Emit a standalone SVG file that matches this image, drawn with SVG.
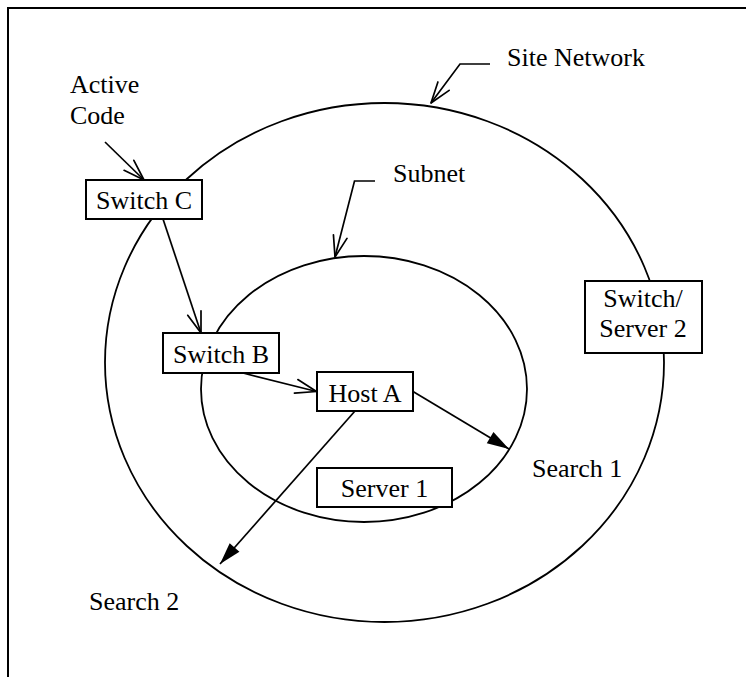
<svg xmlns="http://www.w3.org/2000/svg" width="746" height="677" viewBox="0 0 746 677">
  <style>
    text { font-family: "Liberation Serif", "Times New Roman", serif; font-size: 26px; fill: #000; }
    .frame { fill: none; stroke: #000; stroke-width: 2; }
    .zone { fill: none; stroke: #000; stroke-width: 1.8; }
    .box { fill: #fff; stroke: #000; stroke-width: 2; }
    .link { fill: none; stroke: #000; stroke-width: 1.7; }
    .open { marker-end: url(#openArrow); }
    .solid { marker-end: url(#solidArrow); }
    .mid { text-anchor: middle; }
  </style>
  <defs>
    <marker id="openArrow" viewBox="-24 -10 26 20" markerWidth="26" markerHeight="20" refX="0" refY="0" orient="auto" markerUnits="userSpaceOnUse">
      <path d="M-21,-7 L0,0 L-21,7" fill="none" stroke="#000" stroke-width="1.7" stroke-linejoin="round" stroke-linecap="round"/>
    </marker>
    <marker id="solidArrow" viewBox="-24 -10 26 20" markerWidth="26" markerHeight="20" refX="0" refY="0" orient="auto" markerUnits="userSpaceOnUse">
      <path d="M-22,-6.5 L0,0 L-22,6.5 Z" fill="#000"/>
    </marker>
  </defs>

  <!-- page frame, open to the right and bottom -->
  <rect class="frame" x="8" y="8" width="760" height="700"/>

  <g font-family="Liberation Serif, Times New Roman, serif" font-size="26">
    <!-- network regions -->
    <g id="site-network">
      <ellipse class="zone" cx="384.5" cy="362.5" rx="279.5" ry="259.5"/>
      <text x="507" y="66">Site Network</text>
    </g>
    <g id="subnet">
      <ellipse class="zone" cx="364" cy="389" rx="163" ry="133"/>
      <text x="393" y="182">Subnet</text>
    </g>

    <!-- free labels -->
    <g id="active-code">
      <text x="70" y="93">Active</text>
      <text x="70" y="124">Code</text>
    </g>
    <g id="search-1">
      <text x="532" y="477">Search 1</text>
    </g>
    <g id="search-2">
      <text x="89" y="610">Search 2</text>
    </g>

    <!-- connectors -->
    <g id="connectors">
      <polyline class="link open" points="490,64 460,64 431,103"/>
      <polyline class="link open" points="375,181 354.5,181 335,257"/>
      <line class="link open" x1="105" y1="142" x2="144" y2="180"/>
      <line class="link open" x1="163" y1="219" x2="201" y2="333"/>
      <line class="link open" x1="243" y1="373" x2="316.5" y2="391.5"/>
      <line class="link solid" x1="413" y1="391.5" x2="509" y2="449"/>
      <line class="link solid" x1="355" y1="411" x2="220" y2="564"/>
    </g>

    <!-- devices -->
    <g id="switch-c">
      <rect class="box" x="86" y="180" width="116" height="39"/>
      <text class="mid" x="144" y="209">Switch C</text>
    </g>
    <g id="switch-b">
      <rect class="box" x="163" y="333" width="116" height="40"/>
      <text class="mid" x="221" y="363">Switch B</text>
    </g>
    <g id="host-a">
      <rect class="box" x="317" y="372" width="96" height="39"/>
      <text class="mid" x="365" y="402">Host A</text>
    </g>
    <g id="server-1">
      <rect class="box" x="317" y="468" width="135" height="39"/>
      <text class="mid" x="384.5" y="497">Server 1</text>
    </g>
    <g id="switch-server-2">
      <rect class="box" x="585" y="281" width="117" height="72"/>
      <text class="mid" x="643" y="307">Switch/</text>
      <text class="mid" x="643" y="337">Server 2</text>
    </g>
  </g>
</svg>
